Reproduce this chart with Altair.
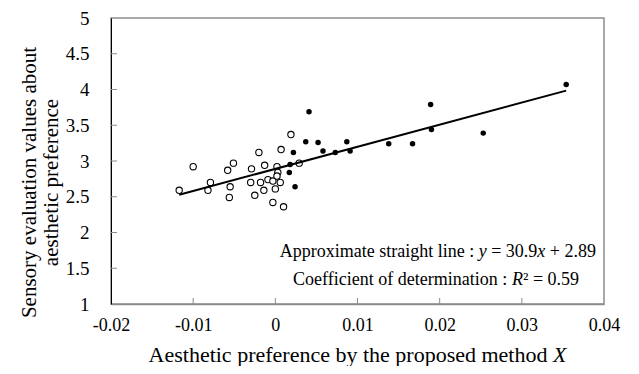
import altair as alt
import pandas as pd

# ---- data ----
open_x = [-0.0117, -0.0100, -0.0082, -0.0079, -0.0058, -0.0051, -0.0055, -0.0056,
          -0.0029, -0.0020, -0.0030, -0.0025, -0.0018, -0.0013, -0.0014, -0.0009,
          -0.0003, 0.0002, 0.0003, 0.0002, 0.0006, 0.0000, -0.0003, 0.0010,
          0.0007, 0.0019, 0.0029]
open_y = [2.59, 2.92, 2.59, 2.70, 2.87, 2.97, 2.64, 2.49,
          2.89, 3.12, 2.70, 2.52, 2.70, 2.94, 2.59, 2.74,
          2.72, 2.92, 2.84, 2.79, 2.70, 2.61, 2.42, 2.36,
          3.16, 3.37, 2.97]
filled_x = [0.0041, 0.0022, 0.0037, 0.0052, 0.0058, 0.0073, 0.0018, 0.0017, 0.0024,
            0.0087, 0.0091, 0.0138, 0.0167, 0.0189, 0.0190, 0.0253, 0.0354]
filled_y = [3.69, 3.12, 3.27, 3.26, 3.14, 3.12, 2.95, 2.84, 2.64,
            3.27, 3.14, 3.24, 3.24, 3.79, 3.44, 3.39, 4.07]
slope = 30.9
intercept = 2.89
r2 = 0.59
x_ticks = [-0.02, -0.01, 0.0, 0.01, 0.02, 0.03, 0.04]
y_ticks = [1, 1.5, 2, 2.5, 3, 3.5, 4, 4.5, 5]

# ---- layout ----
W, H = 493, 286
FONT = "Liberation Serif"
GRAY = "#8c8c8c"

xs = alt.Scale(domain=[-0.02, 0.04], nice=False, zero=False)
ys = alt.Scale(domain=[1, 5], nice=False, zero=False)

df_open = pd.DataFrame({"x": open_x, "y": open_y})
df_fill = pd.DataFrame({"x": filled_x, "y": filled_y})
all_x = open_x + filled_x
lx = [min(all_x), max(all_x)]
df_line = pd.DataFrame({"x": lx, "y": [slope * v + intercept for v in lx]})

xaxis = alt.Axis(values=x_ticks, labelExpr="toString(round(datum.value*100)/100)",
                 labelFont=FONT, labelFontSize=18, labelColor="black", ticks=False,
                 domainColor=GRAY, domainWidth=1.5, grid=False, title=None,
                 labelPadding=12, labelFlush=False, labelOverlap=False)
yaxis = alt.Axis(values=y_ticks, labelExpr="toString(datum.value)", labelFont=FONT,
                 labelFontSize=19, labelColor="black", ticks=False, domainColor="black",
                 domainWidth=1, grid=False, labelPadding=22, labelOverlap=False,
                 title=["Sensory evaluation values about", "aesthetic preference"],
                 titleFont=FONT, titleFontSize=21, titleFontWeight="normal",
                 titleColor="black", titleX=-72, titleY=H / 2 + 21, titleLineHeight=22,
                 titleBaseline="bottom")


def X(field="x"):
    return alt.X(field + ":Q", scale=xs, axis=xaxis)


def Y(field="y"):
    return alt.Y(field + ":Q", scale=ys, axis=yaxis)


base_open = alt.Chart(df_open).mark_point(
    shape="circle", filled=True, fill="white", stroke="black", strokeWidth=1.1,
    size=40, opacity=1
).encode(x=X(), y=Y())

pts_fill = alt.Chart(df_fill).mark_circle(color="black", size=30, opacity=1).encode(
    x=X(), y=Y())

line = alt.Chart(df_line).mark_line(color="black", strokeWidth=2).encode(x=X(), y=Y())

# inward ticks
xt = pd.DataFrame({"x": x_ticks[1:-1]})
yt = pd.DataFrame({"y": y_ticks[1:-1]})
xtick = alt.Chart(xt).mark_rule(color=GRAY, strokeWidth=1).encode(
    x=X(), y=alt.value(H), y2=alt.value(H - 6))
ytick = alt.Chart(yt).mark_rule(color=GRAY, strokeWidth=1).encode(
    y=Y(), x=alt.value(0), x2=alt.value(6))

# ---- mixed italic texts ----
NORM = {" ": 250, "+": 564, ".": 250, ":": 278, "=": 564, "²": 300,
        "A": 722, "C": 667, "R": 667, "X": 722,
        "a": 444, "b": 500, "c": 444, "d": 500, "e": 444, "f": 333, "g": 500,
        "h": 500, "i": 278, "l": 278, "m": 778, "n": 500, "o": 500, "p": 500,
        "r": 333, "s": 389, "t": 278, "u": 500, "v": 500, "x": 500, "y": 500}
ITAL = {"x": 444, "y": 444, "R": 611, "X": 611}


def tw(s, it, size):
    tot = 0
    for ch in s:
        if ch.isdigit():
            tot += 500
        elif it and ch in ITAL:
            tot += ITAL[ch]
        else:
            tot += NORM.get(ch, 500)
    return tot * size / 1000.0


text_layers = []


def place(segs, size, y, center):
    total = sum(tw(s, it, size) for s, it in segs)
    x0 = center - total / 2
    for s, it in segs:
        lead = len(s) - len(s.lstrip(" "))
        core = s.strip(" ")
        if core:
            text_layers.append(
                alt.Chart(pd.DataFrame({"t": [core]})).mark_text(
                    align="left", baseline="alphabetic", font=FONT, fontSize=size,
                    color="black", fontStyle="italic" if it else "normal"
                ).encode(x=alt.value(x0 + tw(" " * lead, False, size)), y=alt.value(y),
                         text="t:N")
            )
        x0 += tw(s, it, size)


line1 = [("Approximate straight line : ", False), ("y", True), (" = " + str(slope), False),
         ("x", True), (" + " + str(intercept), False)]
line2 = [("Coefficient of determination : ", False), ("R", True), ("² = " + str(r2), False)]
xtitle = [("Aesthetic preference by the proposed method ", False), ("X", True)]
w1 = sum(tw(s, it, 18) for s, it in line1)
c_ann = 485 - w1 / 2
place(line1, 18, 239, c_ann)
place(line2, 18, 267, c_ann)
place(xtitle, 22, 344, W / 2)

chart = alt.layer(base_open, xtick, ytick, line, pts_fill, *text_layers).properties(
    width=W, height=H,
    autosize=alt.AutoSizeParams(type="none"),
    padding={"left": 103, "top": 10, "right": 27, "bottom": 62},
).configure_view(stroke=GRAY, strokeWidth=1.5).configure_axis(labelOverlap=False)

chart.save("out.html", embed_options={"renderer": "svg", "actions": False})
